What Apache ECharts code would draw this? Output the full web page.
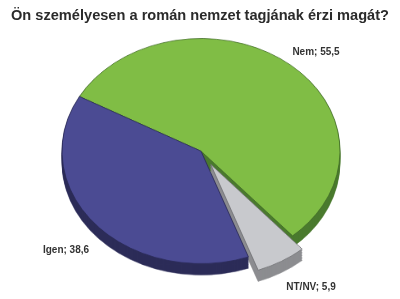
<!DOCTYPE html>
<html>
<head>
<meta charset="utf-8">
<script src="https://cdn.jsdelivr.net/npm/echarts@6/dist/echarts.min.js"></script>
<style>
  html, body { margin: 0; padding: 0; background: #fff; }
  #wrap { position: relative; width: 400px; height: 299px; overflow: hidden; }
  #pie { position: absolute; left: 0; top: 0; width: 400px; height: 369px;
         transform: scaleY(0.81); transform-origin: 0 0; }
  #txt { position: absolute; left: 0; top: 0; width: 400px; height: 299px; }
</style>
</head>
<body>
<div id="wrap">
  <div id="pie"></div>
  <div id="txt"></div>
</div>
<script>
// ---- data ----
const titleText = 'Ön személyesen a román nemzet tagjának érzi magát?';
const categories = ['Nem', 'NT/NV', 'Igen'];
const values = [55.5, 5.9, 38.6];
const topColors = ['#80bd45', '#c8c9cd', '#4b4b93'];
const sideColors = ['#4a7a2e', '#8c8d90', '#2c2c58'];
const edgeColors = ['#3f6a26', '#6e6f72', '#2a2a55'];
const explodedIndex = 1;

// ---- pie layer (squashed to an ellipse) ----
const pieChart = echarts.init(document.getElementById('pie'), null, { renderer: 'canvas' });
const cx = 201, cy = 186.5, r = 139;
const depth = 14, step = 2;

function makeSeries(offset, isTop) {
  return {
    type: 'pie',
    center: [cx, cy + offset],
    radius: [0, r],
    startAngle: 151,
    clockwise: true,
    selectedMode: 'single',
    selectedOffset: 19,
    silent: true,
    animation: false,
    label: { show: false },
    labelLine: { show: false },
    emphasis: { disabled: true },
    data: categories.map((c, i) => {
      const st = isTop
        ? { color: topColors[i], borderColor: edgeColors[i], borderWidth: 0.8 }
        : { color: sideColors[i], borderColor: sideColors[i], borderWidth: 0.5 };
      return {
        name: c,
        value: values[i],
        selected: i === explodedIndex,
        itemStyle: st,
        select: { itemStyle: st }
      };
    })
  };
}

const series = [];
for (let o = depth; o > 0; o -= step) series.push(makeSeries(o, false));
series.push(makeSeries(0, true));

pieChart.setOption({ animation: false, series: series });

// ---- text layer ----
const txtChart = echarts.init(document.getElementById('txt'), null, { renderer: 'canvas' });
const labelPos = [[316, 52], [311, 287], [66, 250]];
const fmt = v => v.toFixed(1).replace('.', ',');
txtChart.setOption({
  animation: false,
  title: {
    text: titleText,
    left: 'center',
    top: 3,
    textStyle: { fontFamily: 'Liberation Sans', fontWeight: 'bold', fontSize: 14.6, color: '#2b2b2b' }
  },
  graphic: categories.map((c, i) => ({
    type: 'text',
    x: labelPos[i][0],
    y: labelPos[i][1],
    style: {
      text: c + '; ' + fmt(values[i]),
      fontFamily: 'Liberation Sans',
      fontWeight: 'bold',
      fontSize: 10,
      fill: '#333333',
      textAlign: 'center',
      textVerticalAlign: 'middle'
    }
  }))
});
</script>
</body>
</html>
